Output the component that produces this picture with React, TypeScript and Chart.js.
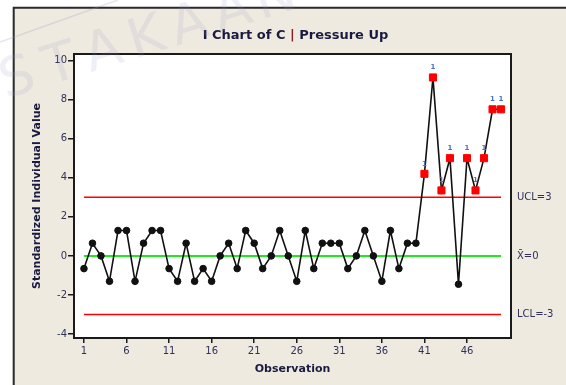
import React, { useEffect, useRef } from 'react';
import { Chart, registerables } from 'chart.js';

Chart.register(...registerables);

// ---- data ----
const observations = [
  1, 2, 3, 4, 5, 6, 7, 8, 9, 10,
  11, 12, 13, 14, 15, 16, 17, 18, 19, 20,
  21, 22, 23, 24, 25, 26, 27, 28, 29, 30,
  31, 32, 33, 34, 35, 36, 37, 38, 39, 40,
  41, 42, 43, 44, 45, 46, 47, 48, 49, 50,
];
const values = [
  -0.65, 0.65, 0, -1.3, 1.3, 1.3, -1.3, 0.65, 1.3, 1.3,
  -0.65, -1.3, 0.65, -1.3, -0.65, -1.3, 0, 0.65, -0.65, 1.3,
  0.65, -0.65, 0, 1.3, 0, -1.3, 1.3, -0.65, 0.65, 0.65,
  0.65, -0.65, 0, 1.3, 0, -1.3, 1.3, -0.65, 0.65, 0.65,
  4.2, 9.13, 3.35, 5.0, -1.45, 5.0, 3.35, 5.0, 7.5, 7.5,
];
const UCL = 3;
const CENTER = 0;
const LCL = -3;
const limitValues = [UCL, CENTER, LCL];
const limitLabels = ['UCL=3', 'X\u0304=0', 'LCL=-3'];
const yTicks = [-4, -2, 0, 2, 4, 6, 8, 10];
const xTicks = [1, 6, 11, 16, 21, 26, 31, 36, 41, 46];
const chartTitle = ['I Chart of C ', '|', ' Pressure Up'];
const yTitle = 'Standardized Individual Value';
const xTitle = 'Observation';
const flagLabel = '1';
const watermark = 'PUSTAKAAN';

const FONT = '"DejaVu Sans", sans-serif';
const BEIGE = '#EEEAE0';

const flagged = values.map((v) => v > UCL || v < LCL);

const decor = {
  id: 'decor',
  beforeDraw(chart: any) {
    const { ctx, chartArea: a, width, height } = chart;
    ctx.save();
    ctx.fillStyle = '#ffffff';
    ctx.fillRect(0, 0, width, height);
    ctx.fillStyle = BEIGE;
    ctx.fillRect(13, 7, width - 13, height - 7);
    ctx.strokeStyle = '#2a2a2a';
    ctx.lineWidth = 2;
    ctx.beginPath();
    ctx.moveTo(13.7, height);
    ctx.lineTo(13.7, 7.7);
    ctx.lineTo(width, 7.7);
    ctx.stroke();
    ctx.fillStyle = '#ffffff';
    ctx.fillRect(a.left, a.top, a.right - a.left, a.bottom - a.top);
    ctx.restore();
  },
  afterDatasetsDraw(chart: any) {
    const { ctx } = chart;
    const xs = chart.scales.x;
    const ys = chart.scales.y;
    ctx.save();
    ctx.font = `bold 7px ${FONT}`;
    ctx.fillStyle = '#4c72c0';
    ctx.textAlign = 'center';
    ctx.textBaseline = 'middle';
    values.forEach((v, i) => {
      if (!flagged[i]) return;
      ctx.fillText(flagLabel, xs.getPixelForValue(observations[i]), ys.getPixelForValue(v) - 10);
    });
    ctx.restore();
  },
  afterDraw(chart: any) {
    const { ctx, chartArea: a } = chart;
    const ys = chart.scales.y;
    ctx.save();
    // plot border
    ctx.strokeStyle = '#1a1a1a';
    ctx.lineWidth = 2;
    ctx.strokeRect(a.left, a.top, a.right - a.left, a.bottom - a.top);

    // limit labels
    ctx.font = `10px ${FONT}`;
    ctx.fillStyle = '#30305a';
    ctx.textAlign = 'left';
    ctx.textBaseline = 'middle';
    limitValues.forEach((v, i) => {
      ctx.fillText(limitLabels[i], a.right + 6, ys.getPixelForValue(v));
    });

    // chart title
    ctx.font = `bold 13px ${FONT}`;
    ctx.textBaseline = 'middle';
    const widths = chartTitle.map((t) => ctx.measureText(t).width);
    const total = widths.reduce((s, w) => s + w, 0);
    let tx = (a.left + a.right) / 2 + 3 - total / 2;
    chartTitle.forEach((t, i) => {
      ctx.fillStyle = t === '|' ? '#8a1c2c' : '#1a1a40';
      ctx.textAlign = 'left';
      ctx.fillText(t, tx, 36);
      tx += widths[i];
    });

    // axis titles
    ctx.fillStyle = '#1a1a40';
    ctx.font = `bold 11px ${FONT}`;
    ctx.textAlign = 'center';
    ctx.fillText(xTitle, (a.left + a.right) / 2, 369);
    ctx.save();
    ctx.translate(37, (a.top + a.bottom) / 2);
    ctx.rotate(-Math.PI / 2);
    ctx.fillText(yTitle, 0, 0);
    ctx.restore();

    // faint watermark
    ctx.fillStyle = 'rgba(150,150,195,0.15)';
    ctx.strokeStyle = 'rgba(150,150,195,0.25)';
    ctx.lineWidth = 1.5;
    ctx.beginPath();
    ctx.moveTo(0, 42);
    ctx.lineTo(118, 0);
    ctx.stroke();
    ctx.font = `54px ${FONT}`;
    ctx.textAlign = 'center';
    ctx.textBaseline = 'middle';
    const ang = -0.3;
    const step = 45;
    const sx = 18, sy = 80;
    for (let k = 0; k < watermark.length; k++) {
      const d = (k - 2) * step;
      const px = sx + d * Math.cos(ang);
      const py = sy + d * Math.sin(ang);
      ctx.save();
      ctx.translate(px, py);
      ctx.rotate(ang);
      ctx.fillText(watermark[k], 0, 0);
      ctx.restore();
    }
    ctx.restore();
  },
};

export default function App() {
  const ref = useRef<HTMLCanvasElement | null>(null);

  useEffect(() => {
    if (!ref.current) return;
    const mainData = observations.map((o, i) => ({ x: o, y: values[i] }));
    const limitLine = (v: number) => [
      { x: observations[0], y: v },
      { x: observations[observations.length - 1], y: v },
    ];
    const chart = new Chart(ref.current, {
      type: 'line',
      data: {
        datasets: [
          {
            data: mainData,
            borderColor: '#111111',
            borderWidth: 1.6,
            pointStyle: flagged.map((f) => (f ? 'rect' : 'circle')) as any,
            pointRadius: flagged.map((f) => (f ? 5 : 3.3)),
            pointBackgroundColor: flagged.map((f) => (f ? '#ff0000' : '#111111')),
            pointBorderColor: flagged.map((f) => (f ? '#ff0000' : '#111111')),
            pointBorderWidth: 1,
            tension: 0,
          },
          {
            data: limitLine(UCL),
            borderColor: '#ff0000',
            borderWidth: 1.6,
            pointRadius: 0,
          },
          {
            data: limitLine(CENTER),
            borderColor: '#1ee81e',
            borderWidth: 2,
            pointRadius: 0,
          },
          {
            data: limitLine(LCL),
            borderColor: '#ff0000',
            borderWidth: 1.6,
            pointRadius: 0,
          },
        ],
      },
      options: {
        animation: false,
        responsive: false,
        maintainAspectRatio: false,
        layout: { padding: { left: 0, top: 54, right: 55, bottom: 0 } },
        plugins: {
          legend: { display: false },
          tooltip: { enabled: false },
          title: { display: false },
        },
        scales: {
          x: {
            type: 'linear',
            min: -0.17,
            max: 51.17,
            afterBuildTicks: (s: any) => {
              s.ticks = xTicks.map((v) => ({ value: v }));
            },
            afterFit: (s: any) => {
              s.height = 47;
            },
            ticks: {
              autoSkip: false,
              maxRotation: 0,
              padding: 2,
              color: '#30305a',
              font: { family: FONT, size: 10 },
              callback: (v: any) => String(v),
            },
            grid: {
              drawOnChartArea: false,
              drawTicks: true,
              tickLength: 5,
              color: '#1a1a1a',
              lineWidth: 1.5,
            },
            border: { display: false },
          },
          y: {
            type: 'linear',
            min: -4.2,
            max: 10.33,
            afterBuildTicks: (s: any) => {
              s.ticks = yTicks.map((v) => ({ value: v }));
            },
            afterFit: (s: any) => {
              s.width = 74;
            },
            ticks: {
              autoSkip: false,
              padding: 1,
              color: '#30305a',
              font: { family: FONT, size: 10 },
              callback: (v: any) => String(v),
            },
            grid: {
              drawOnChartArea: false,
              drawTicks: true,
              tickLength: 6,
              color: '#1a1a1a',
              lineWidth: 1.5,
            },
            border: { display: false },
          },
        },
      },
      plugins: [decor],
    });
    return () => chart.destroy();
  }, []);

  return (
    <div style={{ position: 'fixed', left: 0, top: 0, width: 566, height: 385 }}>
      <canvas ref={ref} width={566} height={385} style={{ display: 'block' }} />
    </div>
  );
}
